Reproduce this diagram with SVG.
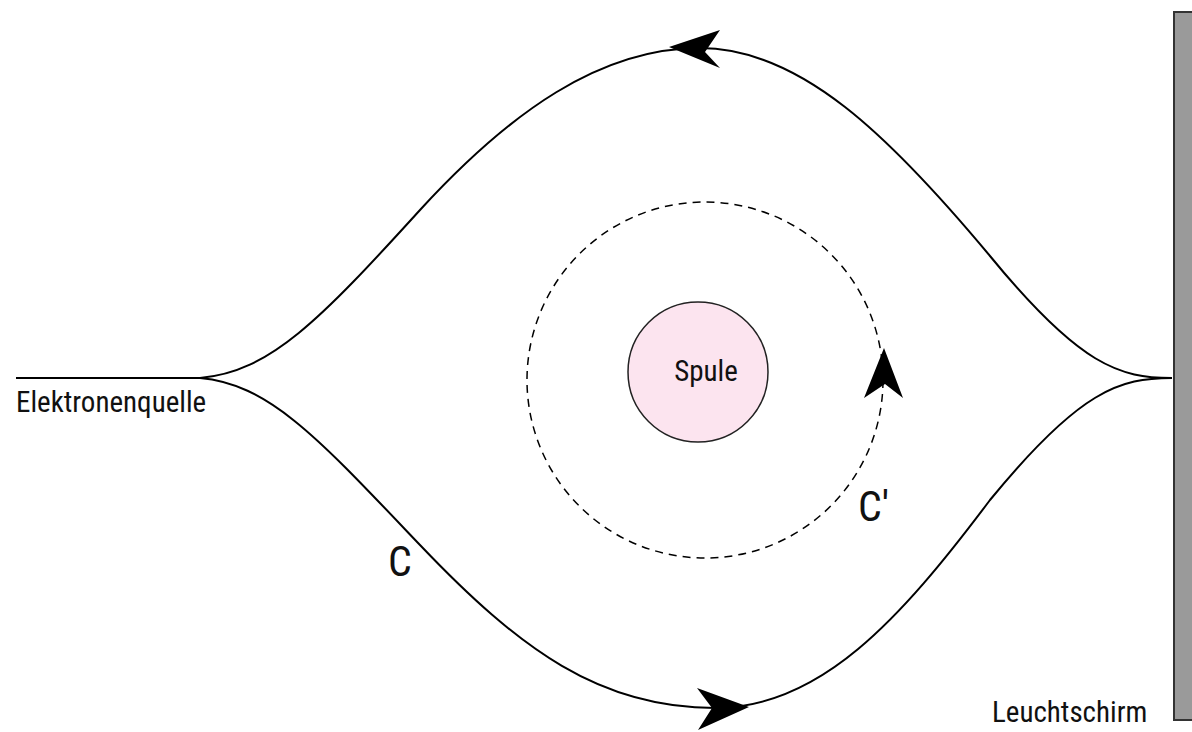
<svg xmlns="http://www.w3.org/2000/svg" width="1192" height="732" viewBox="0 0 1192 732">
<style>
.t{font-family:"Roboto Condensed",Roboto,"Liberation Sans",sans-serif;fill:#111}
.ln{fill:none;stroke:#000;stroke-width:2}
.ah{fill:#000}
</style>
<rect width="1192" height="732" fill="#fff"/>
<g id="connectors">
<path class="ln" d="M16,378 L200,378"/>
<path id="top" class="ln" d="M200,378 C270,372 320,320 420,210 C510,112 600,48 700,48 C800,48 890,136 990,256 C1080,366 1120,378 1172,378"/>
<path id="bottom" class="ln" d="M200,378 C270,384 320,440 420,545 C520,650 600,708 715,708 C820,708 900,620 990,500 C1080,390 1120,378 1172,378"/>
<circle id="cprime" cx="705" cy="380" r="178" fill="none" stroke="#000" stroke-width="1.5" stroke-dasharray="8,6"/>
<path class="ah" d="M669,47 L720,30 L705,52 L720,68 Z"/>
<path class="ah" d="M749,707 L697,688 L712,708 L698,730 Z"/>
<path class="ah" d="M884,348 L903,398 L885,384 L864,398 Z"/>
</g>
<g id="spule">
<circle cx="698" cy="372" r="70" fill="#fce4ef" stroke="#222" stroke-width="1.5"/>
<text class="t" x="706" y="381" font-size="29" text-anchor="middle">Spule</text>
</g>
<g id="leuchtschirm">
<rect x="1174" y="12" width="22" height="708" fill="#9a9a9a" stroke="#333" stroke-width="2"/>
<text class="t" x="992" y="722" font-size="29">Leuchtschirm</text>
</g>
<g id="elektronenquelle">
<text class="t" x="16" y="412" font-size="29">Elektronenquelle</text>
</g>
<text class="t" x="388" y="576" font-size="42">C</text>
<text class="t" x="858" y="521" font-size="42">C'</text>
</svg>
